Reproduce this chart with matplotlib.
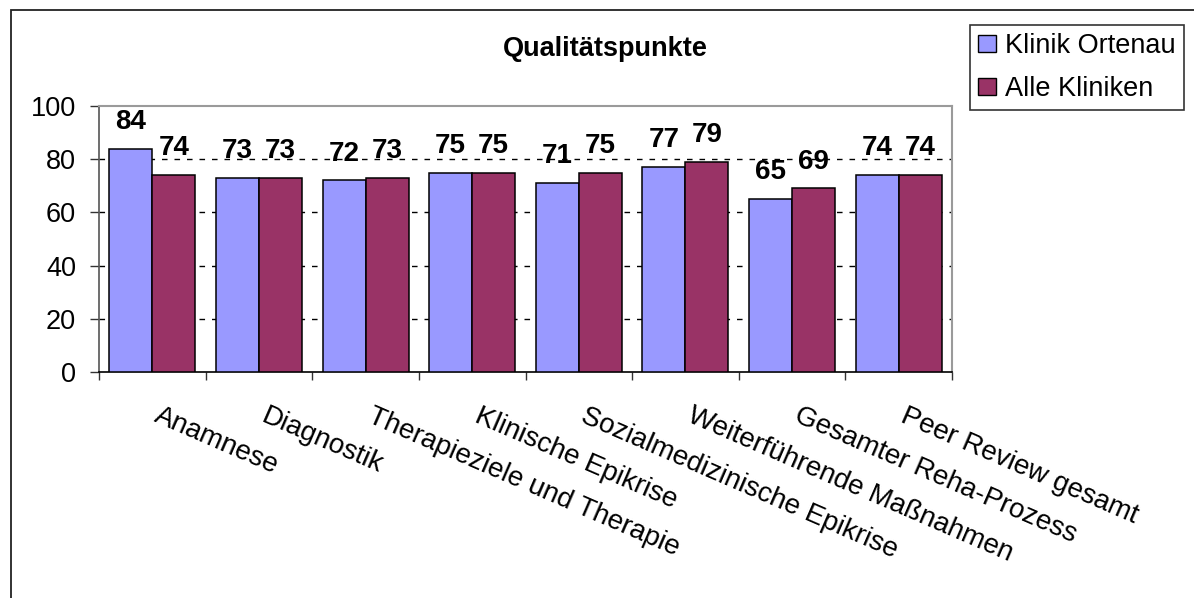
import matplotlib
matplotlib.use("Agg")
import matplotlib.pyplot as plt
import matplotlib.transforms as mtransforms
from matplotlib.patches import Patch, Rectangle
import numpy as np

plt.rcParams['font.family'] = ['Liberation Sans', 'DejaVu Sans']

categories = ["Anamnese", "Diagnostik", "Therapieziele und Therapie",
              "Klinische Epikrise", "Sozialmedizinische Epikrise",
              "Weiterführende Maßnahmen", "Gesamter Reha-Prozess",
              "Peer Review gesamt"]
klinik_ortenau = [84, 73, 72, 75, 71, 77, 65, 74]
alle_kliniken = [74, 73, 73, 75, 75, 79, 69, 74]
series_names = ["Klinik Ortenau", "Alle Kliniken"]
series_colors = ["#9999FF", "#993366"]
y_ticks = [0, 20, 40, 60, 80, 100]

W, H = 1194, 598
fig = plt.figure(figsize=(W / 100, H / 100), dpi=100)
ax = fig.add_axes([99 / W, 1 - 372 / H, (952 - 99) / W, (372 - 106) / H])

x = np.arange(len(categories))
bw = 0.403
bars1 = ax.bar(x - bw / 2, klinik_ortenau, bw, color=series_colors[0],
               edgecolor="black", linewidth=1.1, zorder=3)
bars2 = ax.bar(x + bw / 2, alle_kliniken, bw, color=series_colors[1],
               edgecolor="black", linewidth=1.1, zorder=3)

for bars, vals in ((bars1, klinik_ortenau), (bars2, alle_kliniken)):
    for b, v in zip(bars, vals):
        ax.annotate(f"{v}", (b.get_x() + b.get_width() / 2, v),
                    xytext=(0, 10), textcoords="offset points",
                    ha="center", va="bottom", fontsize=20,
                    fontweight="bold", zorder=4)

ax.set_xlim(-0.5, len(categories) - 0.5)
ax.set_ylim(0, 100)
ax.set_yticks(y_ticks)
ax.set_yticklabels([str(t) for t in y_ticks], fontsize=19.5)
ax.set_xticks(np.arange(-0.5, len(categories), 1.0))
ax.set_xticklabels([])
ax.tick_params(axis="y", direction="out", length=6.5, width=1,
               color="#333333", pad=10)
ax.tick_params(axis="x", direction="out", length=6, width=1,
               color="#333333")

# dashed major gridlines between the axis and the plot-area border
for t in y_ticks[1:-1]:
    ax.axhline(t, color="black", linewidth=1.0, linestyle=(0, (4, 5)),
               zorder=1)

ax.spines["top"].set_color("#9a9a9a")
ax.spines["right"].set_color("#9a9a9a")
ax.spines["top"].set_linewidth(1.5)
ax.spines["right"].set_linewidth(1.5)
ax.spines["left"].set_color("#555555")
ax.spines["left"].set_linewidth(1.2)
ax.spines["bottom"].set_color("black")
ax.spines["bottom"].set_linewidth(1.2)

# slanted category labels hanging below the axis
trans = mtransforms.blended_transform_factory(ax.transData, ax.transAxes)
off = mtransforms.ScaledTranslation(9 / 100, -31 / 100, fig.dpi_scale_trans)
for i, name in enumerate(categories):
    ax.text(i, 0, name, transform=trans + off, rotation=-23.5,
            rotation_mode="anchor", ha="left", va="top", fontsize=20,
            clip_on=False)

fig.text(605 / W, 1 - 56 / H, "Qualitätspunkte", ha="center",
         va="baseline", fontsize=19.5, fontweight="bold")

handles = [Patch(facecolor=c, edgecolor="black", linewidth=1)
           for c in series_colors]
leg = fig.legend(handles, series_names, loc="upper left",
                 bbox_to_anchor=(970 / W, 1 - 25 / H), borderaxespad=0,
                 fontsize=19.5, frameon=True, fancybox=False, framealpha=1,
                 edgecolor="#333333", borderpad=0.3, labelspacing=0.62,
                 handlelength=0.65, handleheight=0.6, handletextpad=0.35)
leg.get_frame().set_linewidth(1.2)

# chart area border
fig.add_artist(Rectangle((11 / W, -0.1), 1.2, 1.1 - 10 / H,
                         transform=fig.transFigure, fill=False,
                         edgecolor="#222222", linewidth=1.3))

fig.savefig("out.png", dpi=100)
